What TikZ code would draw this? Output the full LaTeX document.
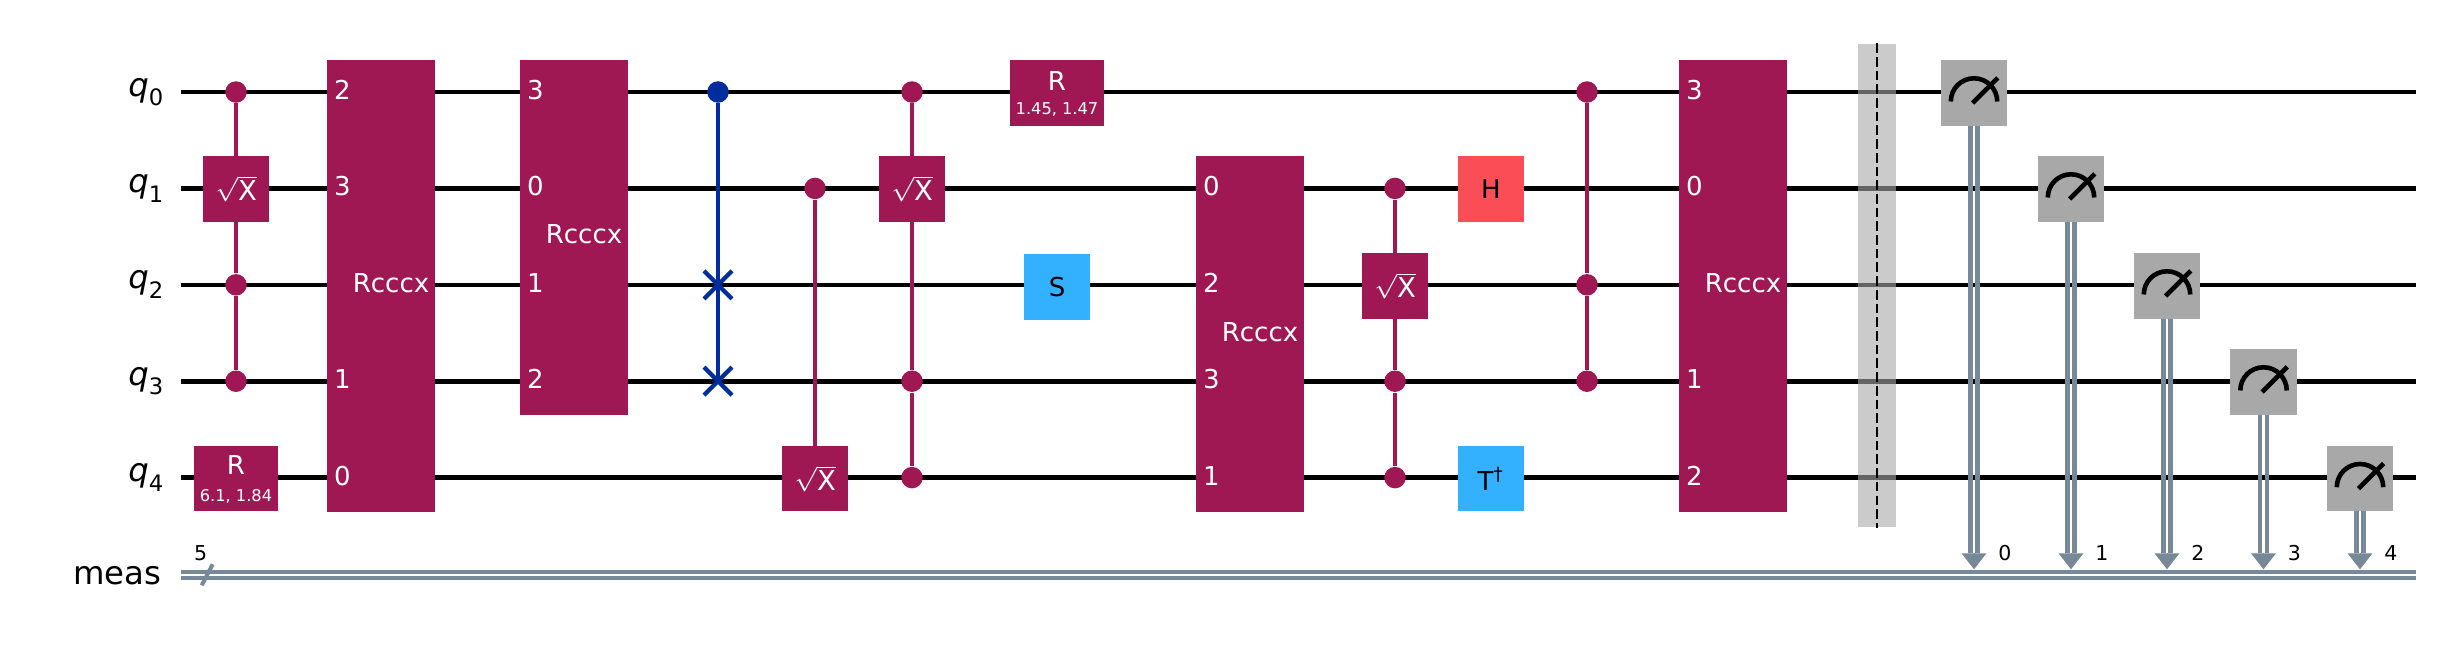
\documentclass[tikz,border=0pt]{standalone}
\usepackage{amsmath}
\usepackage{fontspec}
\setmainfont{DejaVu Sans}
\usetikzlibrary{arrows.meta,shapes.misc}
\definecolor{gatepurple}{HTML}{9F1853}
\definecolor{swapblue}{HTML}{002D9C}
\definecolor{cliffblue}{HTML}{33B1FF}
\definecolor{hadred}{HTML}{FA4D56}
\definecolor{meterbox}{HTML}{A8A8A8}
\definecolor{clsgray}{HTML}{778899}
\newcommand{\gatefont}{\fontsize{7.4}{8}\selectfont}
\newcommand{\parfont}{\fontsize{4.62}{5}\selectfont}
\newcommand{\numfont}{\fontsize{5.83}{6}\selectfont}
\newcommand{\wirefont}{\fontsize{9.19}{10}\selectfont}
\newcommand{\qname}[1]{{\itshape q}\raisebox{-0.55ex}{\fontsize{6.43}{7}\selectfont #1}}
\newcommand{\sqx}{$\sqrt{\text{\fontsize{7.8}{8}\selectfont X}}$}
\tikzset{
  wire/.style={line width=0.046cm,black},
  cwire/.style={line width=0.045cm,clsgray},
  cline/.style={line width=0.042cm,gatepurple},
  sline/.style={line width=0.042cm,swapblue},
  gate/.style={rectangle,inner sep=0pt,outer sep=0pt,minimum width=0.66cm,minimum height=0.655cm,font=\gatefont},
  pgate/.style={gate,fill=gatepurple,text=white},
  rgate/.style={pgate,minimum width=0.84cm},
  bgate/.style={gate,fill=cliffblue},
  hgate/.style={gate,fill=hadred},
  mgate/.style={gate,fill=meterbox},
  tall/.style={pgate,minimum width=1.08cm,minimum height=#1},
  tallname/.style={text=white,font=\gatefont,inner sep=0pt},
  pinname/.style={text=white,font=\gatefont,inner sep=0pt},
  parname/.style={text=white,font=\parfont,inner sep=0pt},
  ctrl/.style={circle,fill=gatepurple,inner sep=0pt,minimum size=0.215cm},
  ctrlblue/.style={circle,fill=swapblue,inner sep=0pt,minimum size=0.215cm},
  swapx/.style={cross out,draw=swapblue,line width=0.042cm,inner sep=0pt,outer sep=0pt,minimum size=0.28cm},
  meter/.style={line width=0.046cm,black},
  num/.style={font=\numfont,inner sep=0pt}
}
\begin{document}
\begin{tikzpicture}[x=0.01cm,y=-0.01cm]
  \useasboundingbox (0,0) rectangle (2438,648);
  \foreach \i/\y in {0/92,1/188.4,2/284.8,3/381.2,4/477.6} {
    \coordinate (w\i l) at (181,\y); \coordinate (w\i r) at (2415.5,\y);
    \draw[wire] (w\i l) -- (w\i r);
    \node[anchor=east,font=\wirefont,inner sep=0pt] (q\i) at (164,\y) {\qname{\i}};
  }
  \node[anchor=base east,font=\wirefont,inner sep=0pt] (meas) at (162,584.5) {meas};
  \coordinate (mla) at (181,572.2); \coordinate (mra) at (2415.5,572.2);
  \coordinate (mlb) at (181,578); \coordinate (mrb) at (2415.5,578);
  \draw[cwire] (mla) -- (mra);
  \draw[cwire] (mlb) -- (mrb);
  \coordinate (sa) at (201.7,585.3); \coordinate (sb) at (212.7,564.3);
  \draw[line width=0.04cm,clsgray] (sa) -- (sb);
  \node[num] (regsize) at (200.7,553) {5};

  \node[ctrl] (a0) at (236,92) {}; \node[ctrl] (a2) at (236,284.8) {}; \node[ctrl] (a3) at (236,381.2) {};
  \node[pgate] (a1) at (236,189) {\sqx};
  \draw[cline] (a0) -- (a1); \draw[cline] (a1) -- (a2); \draw[cline] (a2) -- (a3);
  \node[rgate] (r4) at (236,478.7) {};
  \node[pgate,fill=none,minimum size=0pt] (r4a) at (236,465.5) {R};
  \node[parname] (r4b) at (236,496) {6.1, 1.84};

  \node[tall=4.515cm] (ra) at (381,285.7) {};
  \node[tallname] (rat) at (391,283) {Rcccx};
  \foreach \y/\pin in {92/2,188.4/3,381.2/1,477.6/0}
    \node[pinname] at (342.5,\y-2) {\pin};
  \node[tall=3.547cm] (rb) at (574,237.3) {};
  \node[tallname] (rbt) at (584,234.5) {Rcccx};
  \foreach \y/\pin in {92/3,188.4/0,284.8/1,381.2/2}
    \node[pinname] at (535.5,\y-2) {\pin};

  \node[ctrlblue] (s0) at (718,92) {};
  \node[swapx] (s2) at (718,284.8) {}; \node[swapx] (s3) at (718,381.2) {};
  \draw[sline] (s0) -- (s2.center); \draw[sline] (s2.center) -- (s3.center);

  \node[ctrl] (b1) at (815,188.4) {};
  \node[pgate] (b4) at (815,478.7) {\sqx};
  \draw[cline] (b1) -- (b4);

  \node[ctrl] (c0) at (912,92) {}; \node[ctrl] (c3) at (912,381.2) {}; \node[ctrl] (c4) at (912,477.6) {};
  \node[pgate] (c1) at (912,189) {\sqx};
  \draw[cline] (c0) -- (c1); \draw[cline] (c1) -- (c3); \draw[cline] (c3) -- (c4);

  \node[rgate,minimum width=0.94cm] (r0) at (1057,93) {};
  \node[pgate,fill=none,minimum size=0pt] (r0a) at (1057,81) {R};
  \node[parname] (r0b) at (1057,110) {1.45, 1.47};
  \node[bgate] (sg) at (1057,287) {S};

  \node[tall=3.557cm] (rc) at (1250,334) {};
  \node[tallname] (rct) at (1260,331.7) {Rcccx};
  \foreach \y/\pin in {188.4/0,284.8/2,381.2/3,477.6/1}
    \node[pinname] at (1211.5,\y-2) {\pin};

  \node[ctrl] (d1) at (1395,188.4) {}; \node[ctrl] (d3) at (1395,381.2) {}; \node[ctrl] (d4) at (1395,477.6) {};
  \node[pgate] (d2) at (1395,285.8) {\sqx};
  \draw[cline] (d1) -- (d2); \draw[cline] (d2) -- (d3); \draw[cline] (d3) -- (d4);
  \node[hgate] (hg) at (1491,189) {H};
  \node[bgate] (tg) at (1491,478.7) {T\textsuperscript{†}};

  \node[ctrl] (e0) at (1587,92) {}; \node[ctrl] (e2) at (1587,284.8) {}; \node[ctrl] (e3) at (1587,381.2) {};
  \draw[cline] (e0) -- (e2); \draw[cline] (e2) -- (e3);

  \node[tall=4.515cm] (rd) at (1733,285.7) {};
  \node[tallname] (rdt) at (1743,283) {Rcccx};
  \foreach \y/\pin in {92/3,188.4/0,381.2/1,477.6/2}
    \node[pinname] at (1694.5,\y-2) {\pin};

  \node[rectangle,fill=meterbox,fill opacity=0.6,inner sep=0pt,minimum width=0.38cm,minimum height=4.83cm] (bar) at (1877,285.5) {};
  \draw[line width=0.02cm,black,dash pattern=on 0.097cm off 0.04cm] (bar.north) -- (bar.south);

  \foreach \i/\x/\y in {0/1974/93,1/2071/189,2/2167/286,3/2263.5/382,4/2360/478.7} {
    \node[mgate] (m\i) at (\x,\y) {};
    \draw[meter] ([shift={(-23.2,8.5)}]m\i.center) arc[start angle=180,end angle=0,radius=0.232cm];
    \draw[meter] ([shift={(-1.5,10)}]m\i.center) -- ([shift={(23.7,-15.2)}]m\i.center);
    \coordinate (t\i) at (\x,553.3); \coordinate (h\i) at (\x,569.3);
    \draw[cwire] ([xshift=-0.035cm]m\i.south) -- ([xshift=-0.035cm]t\i);
    \draw[cwire] ([xshift=0.035cm]m\i.south) -- ([xshift=0.035cm]t\i);
    \draw[line width=0.01cm,clsgray,-{Triangle[length=0.16cm,width=0.247cm]}] (t\i) -- (h\i);
    \node[num] (c\i) at (\x+31,553) {\i};
  }
\end{tikzpicture}
\end{document}
